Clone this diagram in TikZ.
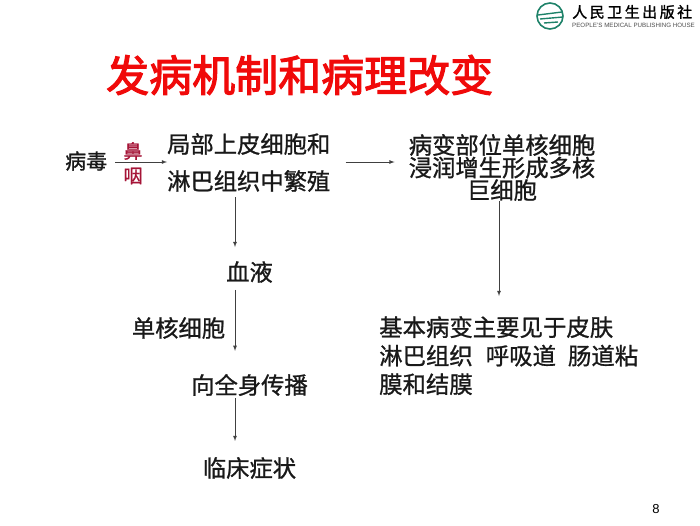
\documentclass[tikz,border=0pt]{standalone}
\usepackage{fontspec}
\setmainfont{Liberation Sans}
\newfontfamily\cjk[FakeBold=1]{Noto Sans CJK SC}
\newfontfamily\cjkpress[FakeBold=1.4]{Noto Sans CJK SC}
\newfontfamily\cjkhead[FakeBold=2.5]{Noto Sans CJK SC}
\usetikzlibrary{positioning}
\definecolor{titlered}{RGB}{240,10,10}
\definecolor{throatred}{RGB}{165,20,55}
\definecolor{logogreen}{RGB}{30,130,105}
\tikzset{
	label text/.style={font=\cjk\fontsize{23.3}{23.3}\selectfont, inner sep=0pt, text=black!90},
	link/.style={draw=black!75, -latex, line width=0.8pt}
}

\begin{document}
\begin{tikzpicture}[x=1pt,y=-1pt]
		\useasboundingbox (0,0) rectangle (700,525);

		% logo
		\node[draw=logogreen, circle, line width=1.6pt, minimum size=26pt, inner sep=0pt] (logo) at (550,16) {};
		\draw[logogreen, line width=1.4pt] (538,15) -- (562,12) (540,19) -- (563,17) (544,23) -- (558,22);
		\node[font=\cjkpress\fontsize{15}{15}\selectfont, inner sep=0pt, anchor=west] (press) at (572,12) {人\,民\,卫\,生\,出\,版\,社};
		\node[font=\fontsize{6.2}{7}\selectfont, text=black!70, inner sep=0pt, below=4pt of press.south west, anchor=north west] (house) {PEOPLE'S MEDICAL PUBLISHING HOUSE};

		% title
		\node[font=\cjkhead\fontsize{43}{43}\selectfont, text=titlered, inner sep=0pt, anchor=west] (title) at (106,75) {发病机制和病理改变};

		% left column
		\coordinate (trunk) at (235,0);
		\node[label text, font=\cjk\fontsize{21}{21}\selectfont, anchor=west] (virus) at (65,161) {病毒};
		\node[font=\cjk\fontsize{19}{19}\selectfont, text=throatred, inner sep=0pt] (nose) at (133,151) {鼻};
		\node[font=\cjk\fontsize{19}{19}\selectfont, text=throatred, inner sep=0pt] (throat) at (133,176) {咽};
		\node[label text, anchor=west] (local) at (167,144) {局部上皮细胞和};
		\node[label text, anchor=west] (lymph) at (167,181) {淋巴组织中繁殖};
		\node[label text] (blood) at (249.5,272) {血液};
		\node[label text] (mono) at (178.5,328) {单核细胞};
		\node[label text] (spread) at (249.5,385) {向全身传播};
		\node[label text] (clinic) at (249.5,468) {临床症状};

		% right column
		\node[label text, align=center, font=\cjk\fontsize{23.3}{22.5}\selectfont] (lesion) at (502,167.5) {病变部位单核细胞\\浸润增生形成多核\\巨细胞};
		\node[label text, align=left, anchor=north west, font=\cjk\fontsize{23.4}{28.5}\selectfont] (basic) at (379,316) {基本病变主要见于皮肤\\淋巴组织\hspace{13pt}呼吸道\hspace{12pt}肠道粘\\膜和结膜};

		\node[font=\fontsize{13}{13}\selectfont, inner sep=0pt] (page) at (656,509) {8};

		\coordinate (midline) at (0,162);
		\coordinate (lesiondrop) at (499,0);

		\draw[link, shorten <=8pt] (virus.east |- midline) -- (local.west |- midline);
		\draw[link, shorten <=15pt, shorten >=14pt] (local.east |- midline) -- (lesion.west |- midline);
		\draw[link, shorten <=5pt, shorten >=14pt] (lymph.south -| trunk) -- (blood.north -| trunk);
		\draw[link, shorten <=7pt, shorten >=23pt] (blood.south -| trunk) -- (spread.north -| trunk);
		\draw[link, shorten <=2pt, shorten >=16pt] (spread.south -| trunk) -- (clinic.north -| trunk);
		\draw[link, shorten >=20pt] (lesion.south -| lesiondrop) -- (basic.north -| lesiondrop);

	\end{tikzpicture}
\end{document}
